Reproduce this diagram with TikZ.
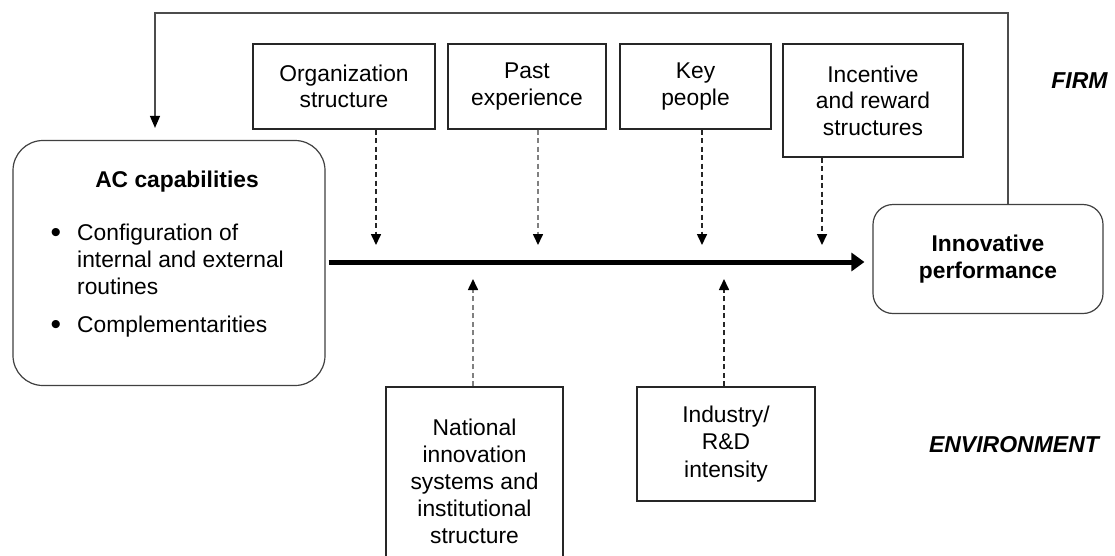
\documentclass[tikz,border=0pt]{standalone}
\usepackage{fontspec}
\setmainfont{Liberation Sans}
\usetikzlibrary{arrows.meta}
\begin{document}
\begin{tikzpicture}[x=1pt,y=-1pt,
  txt/.style={font=\fontsize{22.8}{26.5}\selectfont},
  box/.style={txt,draw=black!85,line width=1.3pt,rectangle,inner sep=0pt,align=center},
  rbox/.style={draw=black!75,line width=1.2pt,rectangle,inner sep=0pt,align=center},
  dasharrow/.style={draw=black!85,line width=1.6pt,dash pattern=on 5pt off 3.5pt,
     -{Triangle[width=10pt,length=11pt,color=black]}},
  lightdash/.style={dasharrow,draw=black!50},
  mainarrow/.style={draw=black,line width=5pt,-{Triangle[width=18pt,length=13pt]}},
  fb/.style={draw=black!70,line width=1.3pt,-{Triangle[width=10pt,length=12pt,color=black]}},
  label/.style={font=\fontsize{23}{26}\selectfont\bfseries\itshape}]
\useasboundingbox (0,0) rectangle (1115,555);
\fill[white] (0,0) rectangle (1115,555);
% top boxes
\node[box,minimum width=182pt,minimum height=85pt] (org) at (344,86.5) {Organization\\structure};
\node[box,minimum width=158pt,minimum height=85pt] (past) at (527,86.5) {Past\\experience};
\node[box,minimum width=151pt,minimum height=85pt] (key) at (695.5,86.5) {Key\\people};
\node[box,minimum width=180pt,minimum height=113pt] (inc) at (873,100.5) {Incentive\\and reward\\structures};
% bottom boxes
\node[box,font=\fontsize{22.8}{27}\selectfont,minimum width=177pt,minimum height=188pt] (nat) at (474.5,481) {National\\innovation\\systems and\\institutional\\structure};
\node[box,font=\fontsize{22.8}{27.5}\selectfont,minimum width=178pt,minimum height=114pt] (ind) at (726,444) {Industry/\\R\&D\\intensity};
% AC capabilities
\node[rbox,minimum width=312pt,minimum height=245pt,rounded corners=30pt] (ac) at (169,263) {};
\node[txt,font=\fontsize{22.8}{26.5}\selectfont\bfseries,anchor=base] (actitle) at (177,187) {AC capabilities};
\node[anchor=base,inner sep=0pt,font=\fontsize{30}{30}\selectfont] (b1) at (56,242) {•};
\node[txt,anchor=base west,inner sep=0pt,align=left,font=\fontsize{22.8}{27}\selectfont] (l1) at (77,294) {Configuration of\\internal and external\\routines};
\node[anchor=base,inner sep=0pt,font=\fontsize{30}{30}\selectfont] (b2) at (56,334) {•};
\node[txt,anchor=base west,inner sep=0pt] (l2) at (77,332) {Complementarities};
% innovative performance
\node[rbox,txt,font=\fontsize{22.8}{27.5}\selectfont\bfseries,minimum width=230pt,minimum height=109pt,rounded corners=20pt] (inn) at (988,259) {Innovative\\performance};
% labels
\node[label] (firm) at (1079.5,81) {FIRM};
\node[label] (env) at (1014,445) {ENVIRONMENT};
% coordinates
\coordinate (ms) at (328,262);
\coordinate (d1) at (376,245);
\coordinate (d2) at (538,245);
\coordinate (d3) at (702,245);
\coordinate (d4) at (822,245);
\coordinate (u1) at (473,279);
\coordinate (u2) at (724,279);
\coordinate (fbr) at (1008,13);
\coordinate (fbl) at (155,13);
% main arrow
\draw[mainarrow,shorten <=3pt,shorten >=8pt] (ac.east |- ms) -- (inn.west |- ms);
% dashed arrows
\draw[dasharrow] (org.south -| d1) -- (d1);
\draw[lightdash] (past.south -| d2) -- (d2);
\draw[dasharrow] (key.south -| d3) -- (d3);
\draw[dasharrow] (inc.south -| d4) -- (d4);
\draw[lightdash] (nat.north -| u1) -- (u1);
\draw[dasharrow] (ind.north -| u2) -- (u2);
% feedback
\draw[fb,shorten >=12pt] (inn.north -| fbr) -- (fbr) -- (fbl) -- (ac.north -| fbl);
\end{tikzpicture}
\end{document}
